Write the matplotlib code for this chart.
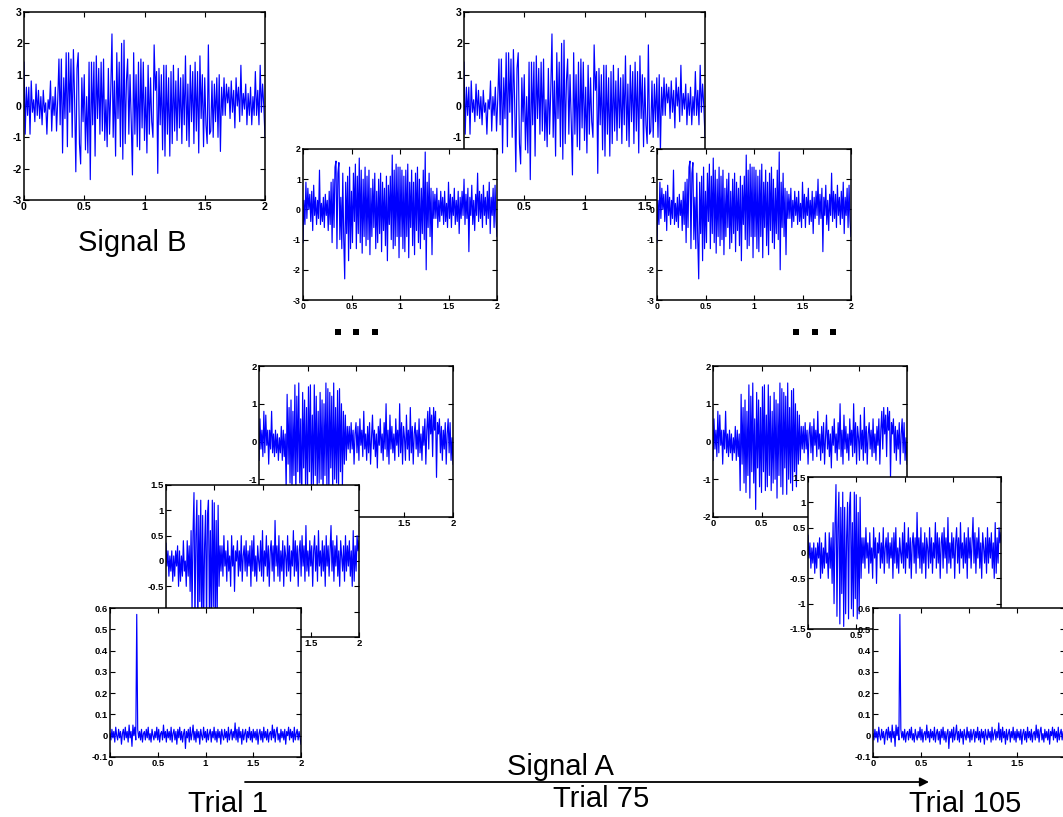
import numpy as np
import matplotlib
matplotlib.use("Agg")
import matplotlib.pyplot as plt
from matplotlib.patches import Rectangle

# ---------------- data ----------------
signal_b_top = [
    1.4, -0.9, 0.6, -0.3, 0.6, -0.9, 0.8, -0.2, 0.2, -0.5, 0.7, -0.3, 0.5, -0.4, 0.3,
    -0.6, 0.5, -0.2, 0.1, -0.9, 0.2, -0.1, 0.8, -0.8, 0.3, -0.3, 0.6, -0.8, 0.2,
    1.5, -0.6, 1.5, -1.5, 0.9, -0.4, 1.7, -1.3, 1.7, -0.2,
    1.5, -1.0, 1.8, 0.2, -2.1, 1.2, 1.7, -1.2, -1.85, 0.9,
    -0.5, 1.0, -1.4, 0.3, -1.5, 1.4, -2.35, 1.4, -0.6, 1.4,
    -1.6, 1.6, -0.4, 1.2, -0.9, 1.4, -0.8, 1.5, -1.1, 0.2,
    -1.3, 1.2, -0.9, 0.5, 2.3, -1.0, 0.8, -1.6, 1.7, -0.4,
    1.4, -1.3, 2.0, -1.7, 2.1, -1.2, 0.8, 1.5, -0.9, 1.0,
    -0.5, -2.2, 1.7, -0.9, 1.0, -1.3, 1.4, -1.4, 1.5, -0.7,
    1.4, -1.1, 0.6, -1.5, 1.3, -0.9, 0.9, -0.5, -1.0, 1.95,
    0.5, 1.1, -2.15, 1.2, -0.6, 1.0, -1.4, 1.3, -1.6, 1.3,
    -0.9, 0.9, -1.6, 1.1, -1.2, 1.3, -0.8, 0.8, -1.1, 1.2,
    -0.7, 0.9, -1.2, 1.0, -0.6, 1.6, -1.1, 0.7, -1.3, 1.3,
    -0.5, 1.1, -1.2, 1.4, -0.8, 1.1, -1.5, 1.6, -0.4, 1.0,
    -1.3, 0.9, -0.6, -1.2, 1.95, -0.9, -0.8, 0.8, -1.0, 0.7,
    -0.5, 0.9, -1.0, 1.0, -1.45, 0.6, -0.3,
    0.9, -0.3, 0.7, 0.1, 0.6, -0.4, 0.8, -0.2, 0.5, -0.7, 0.9, 0.0, 0.6, -0.5, 1.3,
    -0.3, 0.4, -0.1, 0.7, -0.6, 0.4, -0.3, 0.6, -0.6, 0.3, -0.3, 1.1, -0.3, 0.5,
    -0.6, 1.3, -0.2, 0.7, 0.0, -1.0,
]

signal_b_second = [
    -1.1, 0.3, -0.5, 0.9, -0.3, 0.7, 0.0, 0.5, -0.4, 0.6, -0.7, 0.8, -0.2, 0.4, -0.5,
    0.3, -0.3, 1.3, -0.5, 0.2, -0.4, 0.4, -0.6, 0.5, -0.2, 0.3, -0.7, 0.6, -0.5, 0.9,
    -1.1, 1.0, -0.6, 1.4, 1.6, -1.3, 1.2, 1.55, -1.0, 0.4,
    -1.3, 1.2, -1.0, -2.3, 0.9, -0.8, 1.1, -1.7, 1.4, -1.3,
    0.6, -1.1, 1.2, -0.4, 1.5, -1.3, 1.1, -0.8, 1.7, -1.1,
    1.3, -1.45, 1.0, -0.9, 1.4, -1.2, 1.1, -1.0, 1.3, -1.5,
    0.7, -0.9, 1.0, -0.6, 1.2, -1.3, 0.6, -1.1, 1.0, -0.8,
    1.2, -1.4, 0.9, -0.7, 0.7, -1.2, 1.1, -1.7, 0.8, -0.5,
    1.1, -1.0, 1.8, -1.3, 1.3, -1.2, 1.5, -0.9, 1.4, -1.6,
    1.4, -0.9, 1.3, -1.3, 1.1, -1.4, 1.3, -0.9, 1.5, -1.6,
    0.9, -0.6, 1.3, -1.2, 0.9, -1.5, 1.2, -0.7, 1.4, -1.1,
    1.0, -1.3, 0.7, -0.8, 1.3, -1.0, 1.9, -2.0, 0.9, -0.6,
    1.2, -0.9, 0.7, -1.5, 0.6, -0.3,
    0.5, -0.3, 0.7, -0.6, 0.3, -0.4, 0.6, -0.2, 0.4, -0.5,
    0.6, -0.4, 0.2, -0.6, 0.9, -0.3, 0.5, -0.6, 0.4, -0.2,
    0.7, -0.5, 0.3, -0.4, 0.6, -0.8, 0.4, -0.3, 0.6, -0.2,
    1.0, -0.5, 0.5, -0.3, 0.7, -1.4, 0.4, -0.2, 0.8, -0.5,
    0.3, -0.7, 0.5, -0.2, 1.2, -0.4, 0.6, -0.3, 0.5, -0.6,
    0.8, -0.2, 0.4, -0.5, 0.6, -0.3, 0.9, -0.8, 0.4, -0.2,
    0.7, -0.6, 0.8, -0.4, -0.9,
]

signal_a_long = [
    -0.5, 0.6, -0.2, 0.3, -0.4, 0.8, -0.3, 0.7, -0.1, 0.3, -0.6, 0.3, -0.2, 0.8,
    -0.3, 0.2, -0.4, 0.3, -0.3, 0.2, -0.5, 0.1, -0.3, 0.4, -0.5, 0.3, -0.4, 0.2,
    -1.3, 1.25, -0.6, 0.9, -1.1, 1.1, -1.35, 0.8, -0.9, 1.5,
    -1.5, 1.2, -0.8, 1.55, -1.1, 0.6, -1.8, 1.3, -0.7, 1.1,
    -1.2, 0.9, -1.35, 1.45, -0.8, 1.5, -1.3, 0.7, -1.2, 1.5,
    -0.9, 1.2, -1.3, 0.8, -1.1, 1.3, -1.0, 1.1, -1.5, 1.0,
    -0.9, 1.55, -1.2, 1.4, -1.4, 1.3, -0.7, 1.2, -1.4, 1.55,
    -1.0, 0.9, -1.1, 1.35, -1.3, 1.4, -0.8, 1.0, -1.2, 0.8,
    -0.6, 0.7, -0.5, 0.4, -0.2,
    0.4, -0.3, 0.5, -0.2, 0.3, -0.6, 0.2, 0.5, -0.3, 0.4,
    -0.5, 0.6, -0.1, 0.3, -0.4, 0.8, -0.2, 0.2, -0.5, 0.4,
    -0.3, 0.5, -0.6, 0.1, 0.7, -0.2, 0.3, -0.4, 0.2, -0.7,
    0.4, -0.1, 0.6, -0.3, 0.2, -0.5, 0.5, -0.2, 1.0, -0.4,
    0.3, -0.6, 0.7, -0.2, 0.4, -0.3, 0.2, -0.5, 0.6, -0.1,
    0.3, -0.4, 1.0, -0.3, 0.5, -0.6, 0.4, 0.1, -0.5, 0.7,
    -0.2, 0.3, -0.5, 0.9, -0.3, 0.4, -0.6, 0.2, 0.5, -0.2,
    0.3, -0.4, 0.6, -0.3, 0.2, -0.5, 0.4, -0.1, 0.6, -0.6,
    0.3, 0.8, -0.2, 0.9, 0.2, 0.7, -0.4, 0.9, 0.3, 0.8,
    -0.95, 0.5, 0.2, 0.6, -0.3, 0.4, -0.5, 0.3, -0.2, 0.5,
    -0.6, 0.2, 0.6, -0.3, 0.5, -0.5, 0.1, -0.6,
]

signal_a_short = [
    0.35, -0.1, 0.2, -0.3, 0.1, -0.2, 0.2, -0.4, 0.1, -0.3, 0.2, -0.1, 0.3, -0.5,
    0.2, -0.4, 0.1, -0.3, 0.4, -0.2, 0.0, -0.5, 0.4, -0.3, 0.3, -0.6,
    0.6, -1.0, 0.55, 1.35, -1.25, 0.5, 1.2, -1.4, 0.9, -0.8, 1.2, -1.45, 0.9, -1.2,
    0.3, 1.0, -1.3, 0.9, 1.2, -1.1, 0.6, -1.25, 1.2, -0.9, 1.15, -1.3, 0.8, -1.2,
    1.1, -0.5, 0.3, -0.2,
    0.3, -0.3, 0.5, -0.1, 0.2, -0.4, 0.4, -0.2, 0.1, -0.5,
    0.5, -0.1, 0.3, -0.6, 0.2, 0.0, 0.4, -0.3, 0.2, -0.2,
    0.5, -0.4, 0.1, 0.3, -0.2, 0.4, -0.3, 0.2, -0.1, 0.3,
    -0.5, 0.4, -0.2, 0.5, -0.3, 0.1, -0.4, 0.3, 0.0, -0.2,
    0.4, -0.3, 0.6, -0.4, 0.2, -0.1, 0.5, -0.3, 0.3, -0.5,
    0.2, 0.4, -0.2, 0.3, -0.4, 0.8, -0.1, 0.3, -0.3, 0.5,
    -0.4, 0.2, -0.2, 0.4, -0.5, 0.3, 0.1, -0.3, 0.5, -0.2,
    0.3, -0.4, 0.2, -0.1, 0.6, -0.3, 0.4, -0.2, 0.3, -0.5,
    0.2, 0.4, -0.3, 0.5, -0.1, 0.3, -0.4, 0.7, -0.2, 0.2,
    -0.3, 0.4, -0.1, 0.3, -0.5, 0.2, 0.5, -0.2, 0.3, -0.4,
    0.6, -0.1, 0.2, -0.3, 0.4, -0.2, 0.3, -0.5, 0.5, -0.1,
    0.3, -0.3, 0.2, 0.7, -0.2, 0.4, -0.4, 0.3, -0.1, 0.5,
    -0.3, 0.2, -0.5, 0.4, 0.1, -0.2, 0.3, -0.4, 0.5, -0.2,
    0.3, -0.1, 0.4, -0.3, 0.2, -0.5, 0.6, -0.4, 0.3, -0.2,
    0.5, 0.2, 0.4,
]

signal_a_spike = [
    0.01, -0.02, 0.03, -0.01, 0.02, -0.03, 0.04, 0.0, -0.02, 0.03, -0.01, 0.02, -0.04,
    0.01, 0.03, -0.02, 0.04, -0.01, 0.02, -0.03, 0.05, -0.01, 0.02, -0.05, 0.05, 0.0,
    0.04, -0.02,
    0.57,
    0.03, -0.01, 0.02, -0.02, 0.03, -0.03, 0.01, 0.02, -0.02, 0.03,
    -0.01, 0.04, -0.02, 0.01, -0.03, 0.03, 0.0, -0.02, 0.02, -0.01,
    0.04, -0.02, 0.03, -0.03, 0.01, 0.02, -0.02, 0.05, -0.01, 0.02,
    -0.03, 0.03, -0.01, 0.02, -0.02, 0.04, -0.03, 0.01, 0.03, -0.02,
    0.02, -0.04, 0.03, -0.01, 0.04, -0.02, 0.02, -0.03, 0.01, 0.03,
    -0.06, 0.02, -0.01, 0.03, -0.03, 0.04, -0.02, 0.01, 0.05, -0.02,
    0.02, -0.03, 0.03, -0.01, 0.02, -0.04, 0.03, 0.0, -0.02, 0.04,
    -0.01, 0.02, -0.03, 0.03, -0.02, 0.01, 0.03, -0.03, 0.02, -0.01,
    0.04, -0.02, 0.02, -0.03, 0.03, -0.01, 0.02, -0.04, 0.03, 0.0,
    -0.02, 0.03, -0.01, 0.02, -0.03, 0.04, -0.02, 0.01, 0.03, -0.02,
    0.02, -0.01, 0.06, -0.02, 0.03, -0.03, 0.04, -0.01, 0.02, -0.04,
    0.03, -0.02, 0.01, 0.03, -0.03, 0.02, -0.01, 0.04, -0.02, 0.02,
    -0.03, 0.03, -0.01, 0.02, -0.02, 0.03, -0.04, 0.01, 0.03, -0.02,
    0.02, -0.03, 0.04, -0.01, 0.02, -0.02, 0.03, -0.03, 0.01, 0.02,
    -0.02, 0.05, -0.01, 0.03, -0.03, 0.02, 0.04, -0.02, 0.01, -0.03,
    0.03, -0.01, 0.02, -0.02, 0.03, -0.04, 0.02, 0.0, 0.04, -0.02,
    0.03, -0.01, 0.02, -0.03, 0.04, -0.02, 0.01, 0.03, -0.02, 0.02,
    -0.01, -0.04,
]

x_ticks = [0, 0.5, 1, 1.5, 2]
x_tick_labels = ["0", "0.5", "1", "1.5", "2"]

y_ticks_b_top = [-3, -2, -1, 0, 1, 2, 3]
y_labels_b_top = ["-3", "-2", "-1", "0", "1", "2", "3"]
y_ticks_b_second = [-3, -2, -1, 0, 1, 2]
y_labels_b_second = ["-3", "-2", "-1", "0", "1", "2"]
y_ticks_a_long = [-2, -1, 0, 1, 2]
y_labels_a_long = ["-2", "-1", "0", "1", "2"]
y_ticks_a_short = [-1.5, -1, -0.5, 0, 0.5, 1, 1.5]
y_labels_a_short = ["-1.5", "-1", "-0.5", "0", "0.5", "1", "1.5"]
y_ticks_a_spike = [-0.1, 0, 0.1, 0.2, 0.3, 0.4, 0.5, 0.6]
y_labels_a_spike = ["-0.1", "0", "0.1", "0.2", "0.3", "0.4", "0.5", "0.6"]

# ---------------- figure ----------------
W, H = 1063, 817
fig = plt.figure(figsize=(W / 100, H / 100), dpi=100)
fig.patch.set_facecolor("white")

TICK_FONT = "Liberation Sans"
BIG_FONT = "Liberation Sans"


def panel(box, y, ylim, yticks, ylabels, fs):
    l, t, r, b = box
    ax = fig.add_axes([l / W, 1 - b / H, (r - l) / W, (b - t) / H])
    ax.set_facecolor("white")
    tt = np.linspace(0, 2, len(y))
    ax.plot(tt, y, color=(0, 0, 1), lw=0.85)
    ax.set_xlim(0, 2)
    ax.set_ylim(*ylim)
    ax.set_xticks(x_ticks)
    ax.set_xticklabels(x_tick_labels)
    ax.set_yticks(yticks)
    ax.set_yticklabels(ylabels)
    ax.tick_params(direction="in", top=True, right=True, length=3.5,
                   width=0.8, pad=1.5, labelsize=fs, colors="black")
    for lab in ax.get_xticklabels() + ax.get_yticklabels():
        lab.set_fontweight("bold")
        lab.set_family(TICK_FONT)
    for s in ax.spines.values():
        s.set_linewidth(1.1)
        s.set_color("black")
    return ax


# top row: Signal B
panel((24, 12, 265, 200), signal_b_top, (-3, 3), y_ticks_b_top, y_labels_b_top, 7.6)
panel((464, 12, 705, 200), signal_b_top, (-3, 3), y_ticks_b_top, y_labels_b_top, 7.6)
# second row
panel((303, 149, 497, 300), signal_b_second, (-3, 2), y_ticks_b_second, y_labels_b_second, 6.3)
panel((657, 149, 851, 300), signal_b_second, (-3, 2), y_ticks_b_second, y_labels_b_second, 6.3)

# left stack (Signal A)
panel((259, 366, 453, 517), signal_a_long, (-2, 2), y_ticks_a_long, y_labels_a_long, 6.8)
panel((166, 485, 359, 637), signal_a_short, (-1.5, 1.5), y_ticks_a_short, y_labels_a_short, 6.8)
panel((110, 608, 301, 757), signal_a_spike, (-0.1, 0.6), y_ticks_a_spike, y_labels_a_spike, 6.8)

# right stack
panel((713, 366, 907, 517), signal_a_long, (-2, 2), y_ticks_a_long, y_labels_a_long, 6.8)
panel((808, 477, 1001, 629), signal_a_short, (-1.5, 1.5), y_ticks_a_short, y_labels_a_short, 6.8)
panel((873, 608, 1065, 757), signal_a_spike, (-0.1, 0.6), y_ticks_a_spike, y_labels_a_spike, 6.8)


def ftext(x, y, s, **kw):
    fig.text(x / W, 1 - y / H, s, family=BIG_FONT, fontsize=21,
             ha="center", va="baseline", color="black", **kw)


ftext(132, 251, "Signal B")
ftext(560, 775, "Signal A")
ftext(228, 812, "Trial 1")
ftext(601, 807, "Trial 75")
ftext(965, 812, "Trial 105")

# arrow
fig.add_artist(matplotlib.patches.FancyArrowPatch(
    (245 / W, 1 - 782 / H), (929 / W, 1 - 782 / H),
    transform=fig.transFigure, arrowstyle="-|>", mutation_scale=13,
    lw=1.3, color="black", shrinkA=0, shrinkB=0))

# "..." square dots
for cx in [338, 356, 375, 796, 815, 833]:
    fig.add_artist(Rectangle(((cx - 3) / W, 1 - (332 + 3) / H), 6 / W, 6 / H,
                             transform=fig.transFigure, color="black", lw=0))

fig.savefig("out.png", dpi=100, facecolor="white")
